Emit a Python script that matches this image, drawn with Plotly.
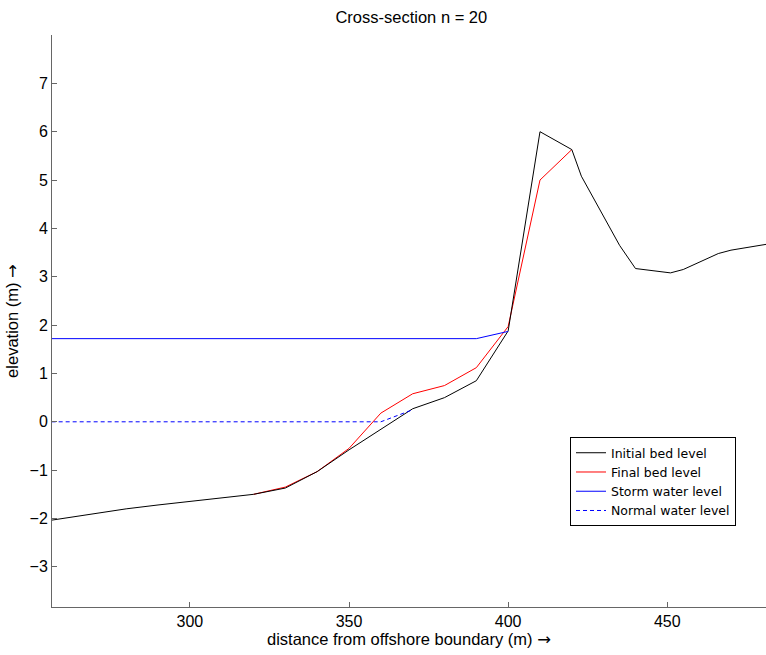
import plotly.graph_objects as go

# Initial bed level
x_init = [250, 260, 270, 280, 290, 300, 310, 320, 330, 340, 350, 360, 370, 380, 390, 400,
          410, 420, 423, 435, 440, 451, 455, 466, 470, 481, 485]
z_init = [-2.1, -2.0, -1.9, -1.8, -1.72, -1.65, -1.58, -1.5, -1.37, -1.03, -0.58, -0.15, 0.27,
          0.5, 0.85, 1.88, 6.0, 5.63, 5.08, 3.65, 3.17, 3.08, 3.15, 3.48, 3.55, 3.67, 3.7]

# Final bed level
x_final = [320, 330, 340, 350, 360, 370, 380, 390, 400, 410, 420]
z_final = [-1.5, -1.35, -1.03, -0.55, 0.18, 0.58, 0.75, 1.12, 1.97, 5.0, 5.63]

# Storm water level
x_storm = [250, 390, 400]
z_storm = [1.72, 1.72, 1.87]

# Normal water level
x_normal = [250, 360, 370]
z_normal = [0, 0, 0.25]

ARROW = '<span style="font-family:DejaVu Sans">→</span>'

fig = go.Figure()
fig.add_trace(go.Scatter(x=x_final, y=z_final, mode="lines", name="Final bed level",
                         line=dict(color="#ff0000", width=1), legendrank=2))
fig.add_trace(go.Scatter(x=x_init, y=z_init, mode="lines", name="Initial bed level",
                         line=dict(color="#000000", width=1), legendrank=1))
fig.add_trace(go.Scatter(x=x_storm, y=z_storm, mode="lines", name="Storm water level",
                         line=dict(color="#0000ff", width=1), legendrank=3))
fig.add_trace(go.Scatter(x=x_normal, y=z_normal, mode="lines", name="Normal water level",
                         line=dict(color="#0000ff", width=1, dash="4px,3px"), legendrank=4))

fig.update_layout(
    width=766, height=655,
    margin=dict(l=52, r=0, t=35, b=48),
    paper_bgcolor="white", plot_bgcolor="white",
    font=dict(family="Liberation Sans, Arial, sans-serif", size=16, color="black"),
    title=dict(text="Cross-section n = 20", x=0.537, xanchor="center", y=0.973, yanchor="middle",
               font=dict(size=16.5)),
    showlegend=True,
    legend=dict(x=0.7255, y=0.297, xanchor="left", yanchor="top",
                bordercolor="black", borderwidth=1, bgcolor="white",
                font=dict(family="DejaVu Sans, sans-serif", size=12.5),
                traceorder="normal", tracegroupgap=0),
)
fig.update_xaxes(range=[256.7, 481], tickvals=[300, 350, 400, 450],
                 ticks="inside", ticklen=5, tickcolor="#666", showline=True, linecolor="#666",
                 showgrid=False, zeroline=False, tickfont=dict(size=16),
                 title=dict(text="distance from offshore boundary (m) " + ARROW, standoff=4,
                            font=dict(size=16.5)))
fig.update_yaxes(range=[-3.83, 8.0], tickvals=[-3, -2, -1, 0, 1, 2, 3, 4, 5, 6, 7],
                 ticks="inside", ticklen=5, tickcolor="#666", showline=True, linecolor="#666",
                 showgrid=False, zeroline=False, tickfont=dict(size=16),
                 title=dict(text="elevation (m) " + ARROW, standoff=6, font=dict(size=16.5)))

fig.write_html("out.html")
